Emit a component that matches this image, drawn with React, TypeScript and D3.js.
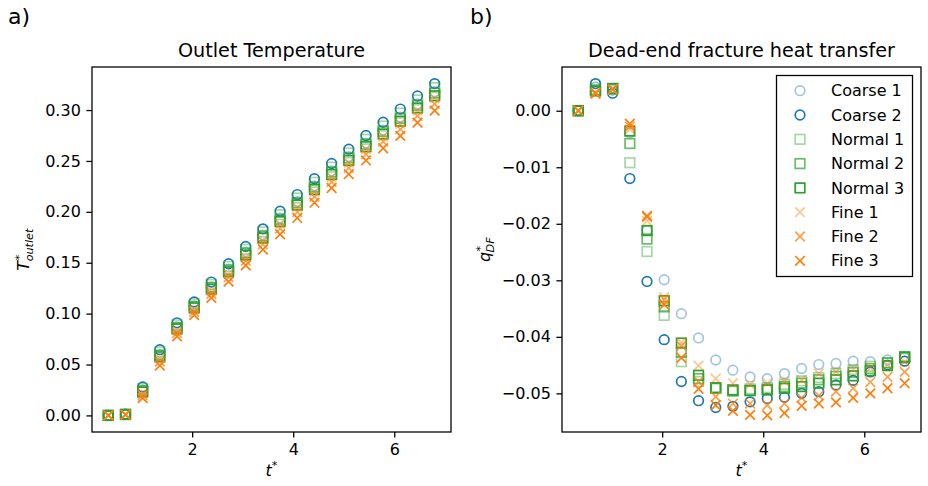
import React, { useEffect, useRef } from "react";
import * as d3 from "d3";

const W = 928;
const H = 486;

const tStar = [0.34, 0.68, 1.02, 1.36, 1.70, 2.04, 2.38, 2.72, 3.06, 3.40, 3.74, 4.08, 4.42, 4.76, 5.10, 5.44, 5.78, 6.12, 6.46, 6.80];

const seriesNames = ["Coarse 1", "Coarse 2", "Normal 1", "Normal 2", "Normal 3", "Fine 1", "Fine 2", "Fine 3"];
const seriesColors = ["#1f77b4", "#1f77b4", "#2ca02c", "#2ca02c", "#2ca02c", "#ff7f0e", "#ff7f0e", "#ff7f0e"];
const seriesAlpha = [0.42, 1, 0.42, 0.7, 1, 0.45, 0.75, 1];
const seriesMarker = ["o", "o", "s", "s", "s", "x", "x", "x"];

// a) outlet temperature
const coarse1T = [0, 0.0011, 0.0247, 0.0599, 0.087, 0.1076, 0.1263, 0.1437, 0.1604, 0.1772, 0.1938, 0.2101, 0.2254, 0.2403, 0.2542, 0.2676, 0.2803, 0.2931, 0.306, 0.318];
const coarse2T = [0, 0.0012, 0.028, 0.0646, 0.091, 0.1115, 0.131, 0.149, 0.166, 0.1833, 0.2006, 0.217, 0.2325, 0.2475, 0.2616, 0.275, 0.288, 0.301, 0.3138, 0.326];
const normal1T = [0, 0.001, 0.0264, 0.0623, 0.089, 0.1096, 0.1287, 0.1464, 0.1632, 0.1803, 0.1972, 0.2136, 0.229, 0.2439, 0.2579, 0.2713, 0.2842, 0.297, 0.3099, 0.322];
const normal2T = [0, 0.001, 0.0242, 0.0591, 0.0863, 0.107, 0.1256, 0.1428, 0.1595, 0.1762, 0.1927, 0.209, 0.2243, 0.2391, 0.253, 0.2664, 0.2791, 0.2918, 0.3047, 0.3167];
const normal3T = [0, 0.0009, 0.023, 0.0576, 0.085, 0.1057, 0.124, 0.1411, 0.1576, 0.1742, 0.1904, 0.2067, 0.2219, 0.2367, 0.2505, 0.264, 0.2765, 0.2891, 0.3021, 0.314];
const fine1T = [0, 0.0009, 0.022, 0.056, 0.0836, 0.1044, 0.1225, 0.1393, 0.1558, 0.1721, 0.1882, 0.2044, 0.2196, 0.2342, 0.2481, 0.2615, 0.274, 0.2865, 0.2994, 0.3114];
const fine2T = [0, 0.0008, 0.0198, 0.0529, 0.081, 0.1018, 0.1194, 0.1358, 0.152, 0.1681, 0.1836, 0.1998, 0.2149, 0.2294, 0.2431, 0.2566, 0.2689, 0.2812, 0.2942, 0.3061];
const fine3T = [0, 0.0006, 0.017, 0.049, 0.0776, 0.0985, 0.1155, 0.1314, 0.1474, 0.163, 0.178, 0.194, 0.209, 0.2234, 0.237, 0.2505, 0.2625, 0.2746, 0.2877, 0.2994];

// b) dead-end fracture heat transfer
const coarse1Q = [0, 0.0042, 0.0036, -0.0039, -0.0212, -0.0299, -0.0359, -0.0402, -0.0441, -0.0459, -0.0471, -0.0474, -0.0465, -0.0456, -0.0449, -0.0447, -0.0443, -0.0444, -0.0441, -0.0436];
const coarse2Q = [0, 0.0048, 0.0031, -0.012, -0.0302, -0.0405, -0.0479, -0.0513, -0.0525, -0.0523, -0.0515, -0.0509, -0.0507, -0.05, -0.0497, -0.0485, -0.0477, -0.0462, -0.045, -0.0443];
const normal1Q = [0, 0.0038, 0.004, -0.0092, -0.0249, -0.0362, -0.0444, -0.0479, -0.049, -0.0494, -0.0492, -0.049, -0.0484, -0.0478, -0.0472, -0.0465, -0.0458, -0.0452, -0.0446, -0.0438];
const normal2Q = [0, 0.0036, 0.0039, -0.0058, -0.0227, -0.0347, -0.0427, -0.0474, -0.0491, -0.0496, -0.0495, -0.0493, -0.0488, -0.0482, -0.0476, -0.047, -0.0463, -0.0456, -0.0446, -0.0435];
const normal3Q = [0, 0.0035, 0.0039, -0.0036, -0.0212, -0.0336, -0.0411, -0.0468, -0.049, -0.0494, -0.0495, -0.0494, -0.0491, -0.0488, -0.0482, -0.0476, -0.0469, -0.046, -0.0451, -0.0436];
const fine1Q = [0, 0.0033, 0.0037, -0.0033, -0.0195, -0.033, -0.041, -0.0451, -0.0474, -0.0482, -0.0485, -0.0482, -0.0479, -0.0476, -0.0465, -0.0462, -0.0458, -0.0455, -0.0449, -0.0444];
const fine2Q = [0, 0.003, 0.0038, -0.0028, -0.0188, -0.0334, -0.0416, -0.0479, -0.0506, -0.0518, -0.0518, -0.0521, -0.0518, -0.0508, -0.0504, -0.0497, -0.0491, -0.048, -0.0471, -0.0462];
const fine3Q = [0, 0.0031, 0.0038, -0.0023, -0.0186, -0.0343, -0.0437, -0.0492, -0.0521, -0.0531, -0.0538, -0.0539, -0.0535, -0.0522, -0.0518, -0.0516, -0.0508, -0.05, -0.0491, -0.0482];

const tempSeries = [coarse1T, coarse2T, normal1T, normal2T, normal3T, fine1T, fine2T, fine3T];
const heatSeries = [coarse1Q, coarse2Q, normal1Q, normal2Q, normal3Q, fine1Q, fine2Q, fine3Q];

const xTicks = [2, 4, 6];
const tempTicks = [0, 0.05, 0.1, 0.15, 0.2, 0.25, 0.3];
const heatTicks = [0, -0.01, -0.02, -0.03, -0.04, -0.05];

const FONT = "DejaVu Sans";
const MS = 9.6; // marker size px
const MEW = 1.7; // marker edge width

function padded(vals: number[]): [number, number] {
  const [lo, hi] = d3.extent(vals) as [number, number];
  const p = (hi - lo) * 0.05;
  return [lo - p, hi + p];
}

function drawMarker(g: any, kind: string, x: number, y: number, color: string, alpha: number) {
  const h = MS / 2;
  if (kind === "o") {
    g.append("circle").attr("cx", x).attr("cy", y).attr("r", h)
      .attr("fill", "none").attr("stroke", color).attr("stroke-width", MEW).attr("opacity", alpha);
  } else if (kind === "s") {
    g.append("rect").attr("x", x - h).attr("y", y - h).attr("width", MS).attr("height", MS)
      .attr("fill", "none").attr("stroke", color).attr("stroke-width", MEW).attr("opacity", alpha);
  } else {
    g.append("path")
      .attr("d", `M${x - h},${y - h}L${x + h},${y + h}M${x - h},${y + h}L${x + h},${y - h}`)
      .attr("fill", "none").attr("stroke", color).attr("stroke-width", MEW).attr("opacity", alpha);
  }
}

function drawPanel(svg: any, box: any, series: number[][], yTicks: number[], fmt: (v: number) => string, title: string) {
  const x = d3.scaleLinear().domain(padded(tStar)).range([box.x0, box.x1]);
  const y = d3.scaleLinear().domain(padded(series.flat())).range([box.y1, box.y0]);

  const g = svg.append("g");

  series.forEach((vals, si) => {
    vals.forEach((v, i) => drawMarker(g, seriesMarker[si], x(tStar[i]), y(v), seriesColors[si], seriesAlpha[si]));
  });

  const xAxis = svg.append("g").attr("transform", `translate(0,${box.y1})`)
    .call(d3.axisBottom(x).tickValues(xTicks).tickSize(5.6).tickPadding(5.6).tickFormat(d3.format("d")));
  const yAxis = svg.append("g").attr("transform", `translate(${box.x0},0)`)
    .call(d3.axisLeft(y).tickValues(yTicks).tickSize(5.6).tickPadding(5.6).tickFormat(fmt as any));
  [xAxis, yAxis].forEach((a) => {
    a.select(".domain").remove();
    a.selectAll("line").attr("stroke", "#000").attr("stroke-width", 1.28);
    a.selectAll("text").attr("font-family", FONT).attr("font-size", 16).attr("fill", "#000");
  });

  svg.append("rect").attr("x", box.x0).attr("y", box.y0)
    .attr("width", box.x1 - box.x0).attr("height", box.y1 - box.y0)
    .attr("fill", "none").attr("stroke", "#000").attr("stroke-width", 1.28);

  svg.append("text").attr("x", (box.x0 + box.x1) / 2).attr("y", box.y0 - 9.6)
    .attr("text-anchor", "middle").attr("font-family", FONT).attr("font-size", 19.2).text(title);

  // x label t*
  const xl = svg.append("text").attr("x", (box.x0 + box.x1) / 2).attr("y", 476)
    .attr("text-anchor", "middle").attr("font-family", FONT).attr("font-size", 16);
  xl.append("tspan").attr("font-style", "italic").text("t");
  xl.append("tspan").attr("font-size", 11.2).attr("dy", -7).text("*");
}

function yLabel(svg: any, bx: number, cy: number, main: string, mainW: number, sub: string, subW: number) {
  const g = svg.append("g").attr("transform", `translate(${bx},${cy}) rotate(-90)`)
    .attr("font-family", FONT);
  const x0 = -(mainW + subW) / 2;
  g.append("text").attr("x", x0).attr("y", 0).attr("font-size", 16).attr("font-style", "italic").text(main);
  g.append("text").attr("x", x0 + mainW + 0.5).attr("y", -6.5).attr("font-size", 11.2).text("*");
  g.append("text").attr("x", x0 + mainW - 0.5).attr("y", 4).attr("font-size", 11.2).attr("font-style", "italic").text(sub);
}

function Figure() {
  const ref = useRef<SVGSVGElement>(null);

  useEffect(() => {
    const svg = d3.select(ref.current);
    svg.selectAll("*").remove();

    const left = { x0: 92, x1: 451, y0: 67, y1: 432 };
    const right = { x0: 562, x1: 921, y0: 67, y1: 432 };

    drawPanel(svg, left, tempSeries, tempTicks, d3.format(".2f"), "Outlet Temperature");
    drawPanel(svg, right, heatSeries, heatTicks, d3.format(".2f"), "Dead-end fracture heat transfer");

    yLabel(svg, 29, (left.y0 + left.y1) / 2, "T", 10, "outlet", 32.7);
    yLabel(svg, 490, (right.y0 + right.y1) / 2, "q", 10.2, "DF", 15);

    svg.append("text").attr("x", 8).attr("y", 24).attr("font-family", FONT).attr("font-size", 22).text("a)");
    svg.append("text").attr("x", 470).attr("y", 24).attr("font-family", FONT).attr("font-size", 22).text("b)");

    // legend
    const lg = svg.append("g");
    lg.append("rect").attr("x", 776.5).attr("y", 75.5).attr("width", 136).attr("height", 201)
      .attr("fill", "#fff").attr("stroke", "#000").attr("stroke-width", 1.28);
    seriesNames.forEach((name, i) => {
      const ry = 90.7 + i * 24.3;
      drawMarker(lg, seriesMarker[i], 800, ry, seriesColors[i], seriesAlpha[i]);
      lg.append("text").attr("x", 831).attr("y", ry).attr("dy", "0.35em")
        .attr("font-family", FONT).attr("font-size", 16).text(name);
    });
  }, []);

  return <svg ref={ref} width={W} height={H} style={{ position: "absolute", left: 0, top: 0, background: "#fff" }} />;
}

export default function App() {
  return <Figure />;
}
